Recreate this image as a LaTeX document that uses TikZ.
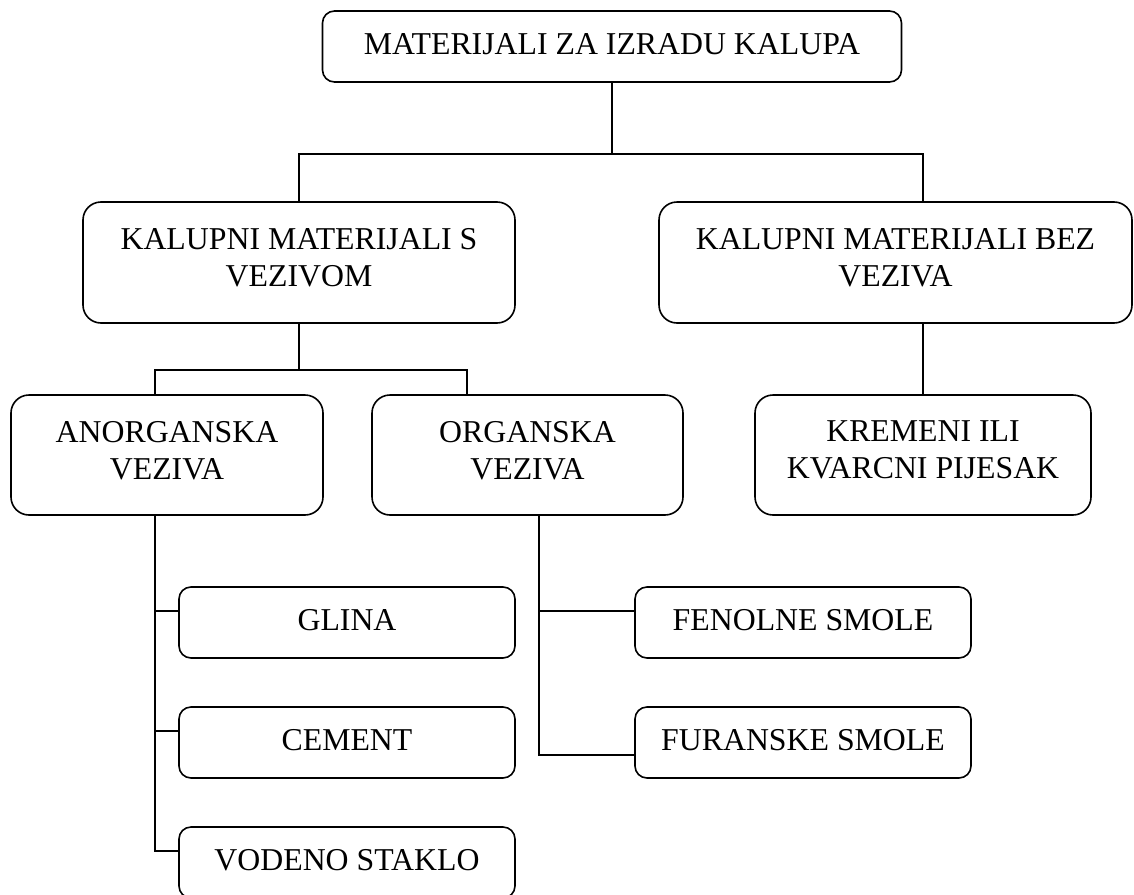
\documentclass[tikz,border=0pt]{standalone}
\usepackage{fontspec}
\setmainfont{Liberation Serif}
\usepackage{tikz}
\usetikzlibrary{positioning}

\begin{document}
\begin{tikzpicture}[
  x=0.5pt, y=-0.5pt,
  node distance=23.7pt,
  bigbox/.style={draw, line width=0.8pt, rounded corners=9pt, align=center, minimum height=60.5pt, text depth=5pt, font=\fontsize{15.9}{18.5}\selectfont},
  leaf/.style={draw, line width=0.8pt, rounded corners=6pt, align=center, minimum width=168pt, minimum height=35.5pt, text depth=2.5pt, font=\fontsize{15.9}{18.5}\selectfont},
  conn/.style={line width=0.8pt}
]
\useasboundingbox (0,0) rectangle (1134,894);
\node[leaf, minimum width=289.5pt] (top) at (612,46.5) {MATERIJALI ZA IZRADU KALUPA};
\node[bigbox, minimum width=216pt] (sveziv) at (299,262.5) {KALUPNI MATERIJALI S\\VEZIVOM};
\node[bigbox, minimum width=236.5pt] (bezveziv) at (895.5,262.5) {KALUPNI MATERIJALI BEZ\\VEZIVA};
\node[bigbox, minimum width=156pt, minimum height=60pt] (anorg) at (167,455) {ANORGANSKA\\VEZIVA};
\node[bigbox, minimum width=155.5pt, minimum height=60pt] (org) at (527.5,455) {ORGANSKA\\VEZIVA};
\node[bigbox, minimum width=168pt, minimum height=60pt] (kremen) at (923,455) {KREMENI ILI\\KVARCNI PIJESAK};
\node[leaf] (glina) at (347,622.5) {GLINA};
\node[leaf, below=of glina] (cement) {CEMENT};
\node[leaf, below=of cement] (staklo) {VODENO STAKLO};
\node[leaf] (fenol) at (803,622.5) {FENOLNE SMOLE};
\node[leaf, below=of fenol] (furan) {FURANSKE SMOLE};
% bus lines
\coordinate (bus1) at (612,154);
\coordinate (bus2l) at (155,370);
\coordinate (bus2r) at (467,370);
\draw[conn] (top.south) -- (bus1);
\draw[conn] (sveziv.north) |- (bus1) -| (kremen.north |- bezveziv.north);
\draw[conn] (sveziv.south) -- (sveziv.south |- bus2l);
\draw[conn] (anorg.north -| bus2l) |- (bus2r) -- (org.north -| bus2r);
\draw[conn] (kremen.north) -- (kremen.north |- bezveziv.south);
% branches
\foreach \leaf in {glina,cement,staklo}
  \draw[conn] (anorg.south -| bus2l) |- ([yshift=5.75pt]\leaf.west);
\draw[conn] ([xshift=5.75pt]org.south) |- ([yshift=5.75pt]fenol.west);
\draw[conn] ([xshift=5.75pt]org.south) |- ([yshift=-6.25pt]furan.west);
\end{tikzpicture}
\end{document}
